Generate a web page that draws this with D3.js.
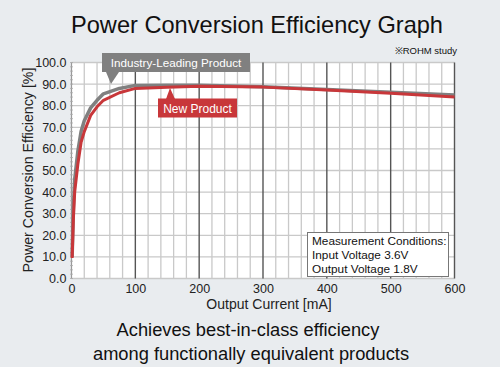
<!DOCTYPE html>
<html><head><meta charset="utf-8">
<script src="https://cdn.jsdelivr.net/npm/d3@7"></script>
<style>body{margin:0;background:#e9ecef;}svg{display:block;font-family:"Liberation Sans",Arial,sans-serif;}</style>
</head><body>
<svg id="c" width="500" height="367"></svg>
<script>
const currents = [1, 3, 5, 10, 15, 20, 30, 40, 50, 75, 100, 150, 200, 300, 400, 500, 600];
const newProduct = [9.5, 28, 40, 53, 63, 68, 75.5, 79.5, 82.5, 86, 88, 88.5, 89, 88.6, 87.3, 85.8, 84];
const industry = [10, 33, 46, 59, 68, 73, 79, 82.5, 85.5, 88, 89.4, 89.5, 89.5, 88.8, 87.5, 86.2, 85];
const xTicks = [0, 100, 200, 300, 400, 500, 600];
const yTicks = [0, 10, 20, 30, 40, 50, 60, 70, 80, 90, 100];
const conditions = ["Measurement Conditions:", "Input Voltage 3.6V", "Output Voltage 1.8V"];

const svg = d3.select("#c");
const W = 500, H = 367;
svg.append("rect").attr("width", W).attr("height", H).attr("fill", "#e9ecef");
const L = 71.5, R = 454.5, T = 62.5, B = 278.5;
const x = d3.scaleLinear().domain([0, 600]).range([L, R]);
const y = d3.scaleLinear().domain([0, 100]).range([B, T]);

svg.append("text").attr("x", 257).attr("y", 33).attr("text-anchor", "middle")
  .attr("font-size", 23.6).attr("fill", "#111").text("Power Conversion Efficiency Graph");
svg.append("text").attr("x", 457).attr("y", 54).attr("text-anchor", "end")
  .attr("font-size", 9.5).attr("fill", "#111").text("※ROHM study");

svg.append("rect").attr("x", L).attr("y", T).attr("width", R - L).attr("height", B - T).attr("fill", "#fff");
const g = svg.append("g");
g.selectAll(".vm").data(d3.range(20, 600, 20).filter(v => v % 100 !== 0)).join("line")
  .attr("x1", d => x(d)).attr("x2", d => x(d)).attr("y1", T).attr("y2", B)
  .attr("stroke", "#c9c9c9").attr("stroke-width", 1.3);
g.selectAll(".hm").data(yTicks).join("line")
  .attr("x1", L).attr("x2", R).attr("y1", d => y(d)).attr("y2", d => y(d))
  .attr("stroke", "#c9c9c9").attr("stroke-width", 1.3);
g.selectAll(".vM").data(xTicks.filter(v => v > 0)).join("line")
  .attr("x1", d => x(d)).attr("x2", d => x(d)).attr("y1", T).attr("y2", B)
  .attr("stroke", "#555").attr("stroke-width", 1.4);
g.append("line").attr("x1", L).attr("x2", L).attr("y1", T).attr("y2", B).attr("stroke", "#999").attr("stroke-width", 1.2);
g.selectAll(".lt").data(d3.range(0, 101, 2)).join("line")
  .attr("x1", L - 1.5).attr("x2", L + 1.5).attr("y1", d => y(d)).attr("y2", d => y(d))
  .attr("stroke", "#aaa").attr("stroke-width", 0.8);

const line = d3.line().x((d, i) => x(currents[i])).y(d => y(d));
svg.append("path").datum(industry).attr("d", line).attr("fill", "none")
  .attr("stroke", "#808080").attr("stroke-width", 3.5).attr("stroke-linejoin", "round");
svg.append("path").datum(newProduct).attr("d", line).attr("fill", "none")
  .attr("stroke", "#c8373a").attr("stroke-width", 3).attr("stroke-linejoin", "round");

const ya = svg.append("g").attr("transform", `translate(${L},0)`)
  .call(d3.axisLeft(y).tickValues(yTicks).tickFormat(d3.format(".1f")).tickSize(0).tickPadding(5));
ya.select(".domain").remove();
ya.selectAll("text").attr("font-size", 12.5).attr("fill", "#222").attr("font-family", "Liberation Sans, Arial, sans-serif");
const xa = svg.append("g").attr("transform", `translate(0,${B})`)
  .call(d3.axisBottom(x).tickValues(xTicks).tickSize(0).tickPadding(6));
xa.select(".domain").remove();
xa.selectAll("text").attr("font-size", 12.5).attr("fill", "#222").attr("font-family", "Liberation Sans, Arial, sans-serif");

svg.append("text").attr("transform", "translate(33,170) rotate(-90)").attr("text-anchor", "middle")
  .attr("font-size", 14.2).attr("fill", "#222").text("Power Conversion Efficiency [%]");
svg.append("text").attr("x", 269).attr("y", 309).attr("text-anchor", "middle")
  .attr("font-size", 14).attr("fill", "#222").text("Output Current [mA]");
svg.append("text").attr("x", 248).attr("y", 336).attr("text-anchor", "middle")
  .attr("font-size", 18.3).attr("fill", "#111").text("Achieves best-in-class efficiency");
svg.append("text").attr("x", 251).attr("y", 360).attr("text-anchor", "middle")
  .attr("font-size", 18.3).attr("fill", "#111").text("among functionally equivalent products");

const gi = svg.append("g");
gi.append("path").attr("d", "M106,72 L119,72 L111,84 Z").attr("fill", "#808080");
gi.append("rect").attr("x", 102).attr("y", 53).attr("width", 148).attr("height", 19).attr("fill", "#808080");
gi.append("text").attr("x", 176).attr("y", 67).attr("text-anchor", "middle").attr("font-size", 11.7)
  .attr("fill", "#fff").text("Industry-Leading Product");
const gn = svg.append("g");
gn.append("path").attr("d", "M166,99 L175,99 L170,88 Z").attr("fill", "#c8373a");
gn.append("rect").attr("x", 158).attr("y", 98.5).attr("width", 79).attr("height", 19).attr("fill", "#c8373a");
gn.append("text").attr("x", 197.5).attr("y", 112.5).attr("text-anchor", "middle").attr("font-size", 12)
  .attr("fill", "#fff").text("New Product");

svg.append("rect").attr("x", 307.5).attr("y", 232.5).attr("width", 141).attr("height", 44)
  .attr("fill", "#fff").attr("stroke", "#777").attr("stroke-width", 1);
svg.selectAll(".cond").data(conditions).join("text")
  .attr("x", 312).attr("y", (d, i) => 245 + i * 14).attr("font-size", 11.8).attr("fill", "#111").text(d => d);
</script>
</body></html>
